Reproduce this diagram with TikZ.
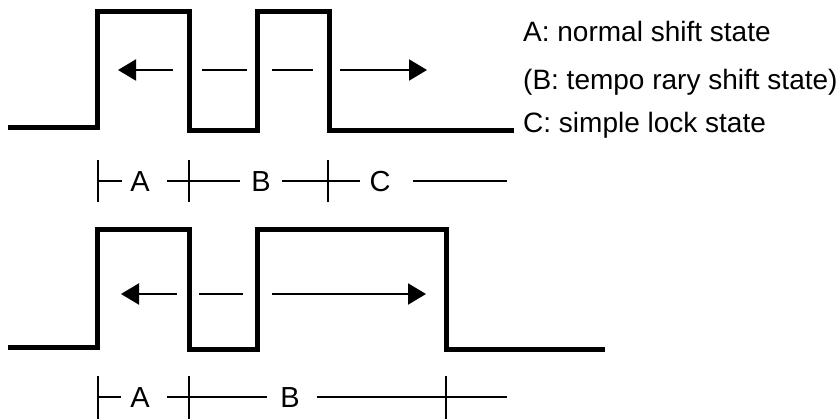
\documentclass[tikz,border=0pt]{standalone}
\usepackage{fontspec}
\setmainfont{Liberation Sans}
\usetikzlibrary{arrows.meta}

\begin{document}
\begin{tikzpicture}[x=1pt, y=-1pt,
        signal/.style={line width=5pt, line join=miter},
        duenn/.style={line width=2pt},
        pfeil/.style={line width=2pt, -{Triangle[length=18pt, width=21pt]}},
        buchstabe/.style={font=\fontsize{29}{34}\selectfont, inner sep=0pt},
        legende/.style={font=\fontsize{28}{34}\selectfont, inner sep=0pt, anchor=base west}]
        \useasboundingbox (0,0) rectangle (838,419);

        % Signal oben
        \draw[signal] (8,128) -- (97,128) -- (97,12) -- (189,12) -- (189,131) -- (257,131)
                -- (257,12) -- (329,12) -- (329,131) -- (514,131);
        \draw[pfeil] (173,70) -- (118,70);
        \draw[duenn] (202,70) -- (247,70);
        \draw[duenn] (272,70) -- (313,70);
        \draw[pfeil] (340,70) -- (427,70);

        % Zustaende oben
        \node[buchstabe] (obenA) at (140,182) {A};
        \node[buchstabe] (obenB) at (261,182) {B};
        \node[buchstabe] (obenC) at (380,182) {C};
        \foreach \xa/\xb in {98/122, 167/240, 282/360, 413/507}
            \draw[duenn] (\xa,181) -- (\xb,181);
        \foreach \x in {98, 189, 328}
            \draw[duenn] (\x,160) -- (\x,202);

        % Legende
        \node[legende] (legA) at (523,42) {A: normal shift state};
        \node[legende] (legB) at (523,90) {(B: tempo rary shift state)};
        \node[legende] (legC) at (523,133) {C: simple lock state};

        % Signal unten
        \draw[signal] (8,348) -- (97,348) -- (97,230) -- (189,230) -- (189,350) -- (257,350)
                -- (257,230) -- (446,230) -- (446,350) -- (605,350);
        \draw[pfeil] (177,294) -- (121,294);
        \draw[duenn] (199,294) -- (243,294);
        \draw[pfeil] (272,294) -- (426,294);

        % Zustaende unten
        \node[buchstabe] (untenA) at (140,398) {A};
        \node[buchstabe] (untenB) at (290,398) {B};
        \foreach \xa/\xb in {98/121, 167/267, 317/507}
            \draw[duenn] (\xa,397) -- (\xb,397);
        \foreach \x in {98, 189, 446}
            \draw[duenn] (\x,376) -- (\x,419);
\end{tikzpicture}
\end{document}
